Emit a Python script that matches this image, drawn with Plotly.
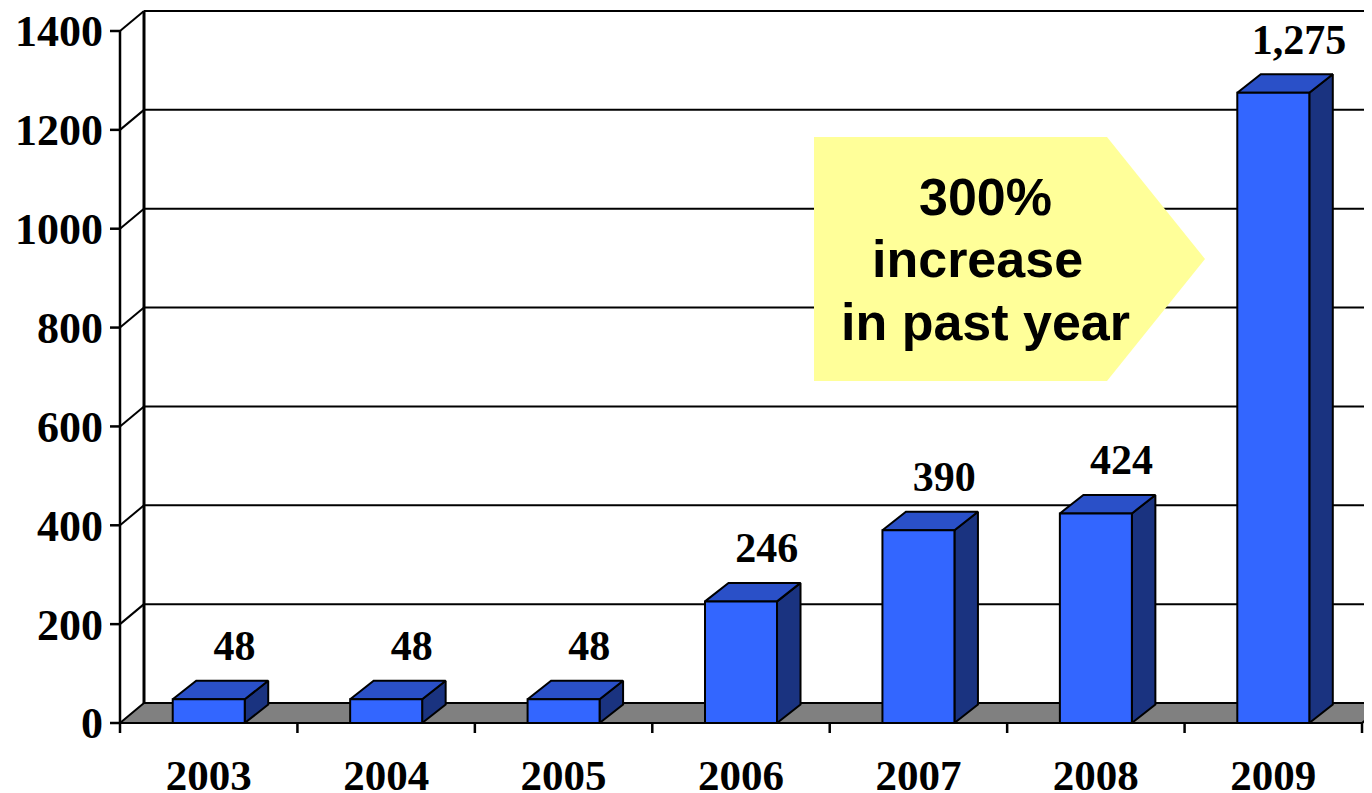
import plotly.graph_objects as go

# ---------------- data ----------------
years = ["2003", "2004", "2005", "2006", "2007", "2008", "2009"]
counts = [48, 48, 48, 246, 390, 424, 1275]
y_tick_values = [0, 200, 400, 600, 800, 1000, 1200, 1400]
y_tick_labels = ["0", "200", "400", "600", "800", "1000", "1200", "1400"]
callout_lines = ["300%", "increase ", "in past year"]

# ---------------- geometry (pixels -> data units) ----------------
W, H = 1372, 793
PAGE_OFF = 8               # page body margin offset
PX_CAT = 177.43            # px per category
PX_UNIT = 692 / 1400       # px per value unit
FRONT_X0, FRONT_Y0 = 120 - PAGE_OFF, 723 - PAGE_OFF
L_MARGIN = 104 - PAGE_OFF
PLOT_BOTTOM = 733 - PAGE_OFF
B_MARGIN = H - PLOT_BOTTOM

x_lo = -0.5 - (FRONT_X0 - L_MARGIN) / PX_CAT
x_hi = -0.5 + (W - FRONT_X0) / PX_CAT
y_lo = -(PLOT_BOTTOM - FRONT_Y0) / PX_UNIT
y_hi = FRONT_Y0 / PX_UNIT


def px_x(px):
    return -0.5 + (px - PAGE_OFF - FRONT_X0) / PX_CAT


def px_y(py):
    return (FRONT_Y0 - (py - PAGE_OFF)) / PX_UNIT


WX, WY = 24 / PX_CAT, 20 / PX_UNIT        # wall depth
BX, BY = 23.5 / PX_CAT, 18.5 / PX_UNIT    # bar depth
HALF = 36 / PX_CAT                        # half bar width
TICK_X = 10 / PX_CAT
TICK_Y = 12 / PX_UNIT

n = len(years)
xs = list(range(n))
left_edge, right_edge = -0.5, n - 0.5
top_val = y_tick_values[-1]

fig = go.Figure()

# floor
fig.add_trace(go.Scatter(
    x=[left_edge, right_edge, right_edge + WX, left_edge + WX, left_edge],
    y=[0, 0, WY, WY, 0],
    mode="lines", fill="toself", fillcolor="#808080",
    line=dict(color="black", width=2), hoverinfo="skip", showlegend=False))

# back wall gridlines + diagonals
gx, gy = [], []
for v in y_tick_values[1:]:
    gx += [left_edge + WX, x_hi + 1, None]
    gy += [v + WY, v + WY, None]
for v in y_tick_values[1:]:
    gx += [left_edge, left_edge + WX, None]
    gy += [v, v + WY, None]
fig.add_trace(go.Scatter(x=gx, y=gy, mode="lines",
                         line=dict(color="black", width=2),
                         hoverinfo="skip", showlegend=False))

# back wall vertical
fig.add_trace(go.Scatter(x=[left_edge + WX, left_edge + WX], y=[WY, top_val + WY],
                         mode="lines", line=dict(color="black", width=3),
                         hoverinfo="skip", showlegend=False))

# front axis line, y ticks, x ticks
ax_x = [left_edge, left_edge, None]
ax_y = [-TICK_Y, top_val, None]
for v in y_tick_values:
    ax_x += [left_edge - TICK_X, left_edge, None]
    ax_y += [v, v, None]
for k in range(1, n + 1):
    b = -0.5 + k
    ax_x += [b, b, None]
    ax_y += [0, -TICK_Y, None]
fig.add_trace(go.Scatter(x=ax_x, y=ax_y, mode="lines",
                         line=dict(color="black", width=2.5),
                         hoverinfo="skip", showlegend=False))

# bars (front, top, side faces)
fx, fy, tx, ty, sx, sy = [], [], [], [], [], []
for i, v in zip(xs, counts):
    a, b = i - HALF, i + HALF
    fx += [a, b, b, a, a, None]
    fy += [0, 0, v, v, 0, None]
    tx += [a, b, b + BX, a + BX, a, None]
    ty += [v, v, v + BY, v + BY, v, None]
    sx += [b, b + BX, b + BX, b, b, None]
    sy += [0, BY, v + BY, v, 0, None]
for px_, py_, col in [(sx, sy, "#1A3380"), (tx, ty, "#2A50C8"), (fx, fy, "#3366FF")]:
    fig.add_trace(go.Scatter(x=px_, y=py_, mode="lines", fill="toself",
                             fillcolor=col, line=dict(color="black", width=2),
                             hoverinfo="skip", showlegend=False))

# data labels
fig.add_trace(go.Scatter(
    x=[i + 0.145 for i in xs], y=[v + 100 for v in counts],
    text=[f"{v:,}" for v in counts], mode="text", textposition="middle center",
    textfont=dict(family="Liberation Serif", size=42, color="black", weight="bold"),
    hoverinfo="skip", showlegend=False, cliponaxis=False))

# callout arrow
cl, cr, ctip = px_x(814), px_x(1107), px_x(1205)
ct, cb, cm = px_y(137), px_y(381), px_y(259)
fig.add_shape(type="path", xref="x", yref="y",
              path=f"M {cl},{ct} L {cr},{ct} L {ctip},{cm} L {cr},{cb} L {cl},{cb} Z",
              fillcolor="#FFFF99", line=dict(width=0), layer="above")
for line_text, py in zip(callout_lines, [197, 259, 322]):
    fig.add_annotation(x=px_x(985), y=px_y(py), xref="x", yref="y",
                       text=line_text, showarrow=False, xanchor="center", yanchor="middle",
                       font=dict(family="Liberation Sans", size=52, color="black", weight="bold"))

fig.update_layout(
    width=W, height=H,
    margin=dict(l=L_MARGIN, r=0, t=0, b=B_MARGIN, autoexpand=False),
    plot_bgcolor="white", paper_bgcolor="white",
    showlegend=False,
    xaxis=dict(range=[x_lo, x_hi], tickvals=xs, ticktext=years, ticks="",
               showgrid=False, zeroline=False, showline=False, automargin=False,
               ticklabeloverflow="allow",
               tickfont=dict(family="Liberation Serif", size=43, color="black", weight="bold"),
               ticklabelstandoff=13),
    yaxis=dict(range=[y_lo, y_hi], tickvals=y_tick_values, ticktext=y_tick_labels, ticks="",
               showgrid=False, zeroline=False, showline=False, automargin=False,
               ticklabeloverflow="allow",
               tickfont=dict(family="Liberation Serif", size=44, color="black", weight="bold"),
               ticklabelstandoff=0),
)

fig.write_html("out.html")
